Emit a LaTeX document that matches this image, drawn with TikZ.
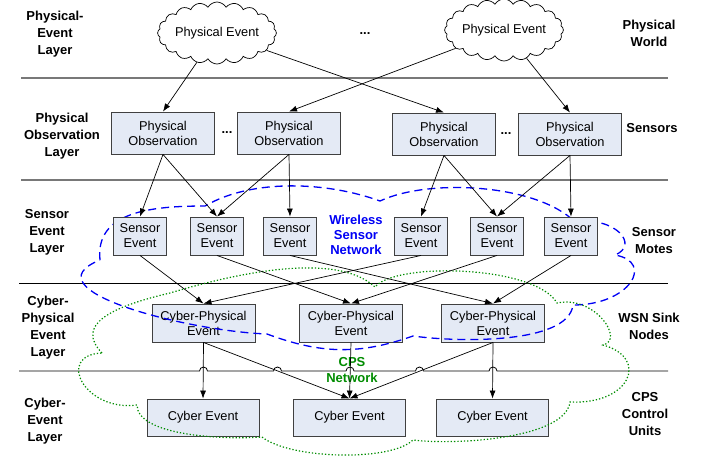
\documentclass[tikz,border=0pt]{standalone}
\usepackage{fontspec}
\setmainfont{Liberation Sans}
\usepackage{xcolor}
\usepackage{tikz}
\usetikzlibrary{shapes.symbols,arrows.meta,positioning}
\definecolor{boxfill}{RGB}{228,234,245}
\definecolor{boxline}{RGB}{64,64,64}
\definecolor{sepgray}{RGB}{120,120,120}
\definecolor{wsnblue}{RGB}{0,0,245}
\definecolor{cpsgreen}{RGB}{0,140,0}
\newcommand{\boxfont}{\fontsize{12.8}{15}\selectfont}
\newcommand{\layerfont}{\fontsize{13}{17}\selectfont\bfseries}

\begin{document}
\begin{tikzpicture}[x=1pt,y=1pt,
    evbox/.style={draw=boxline,fill=boxfill,line width=0.9pt,inner sep=0pt,align=center,font=\boxfont},
    obsbox/.style={evbox,minimum width=103pt,minimum height=42pt},
    sensbox/.style={evbox,minimum width=53pt,minimum height=38pt},
    cpbox/.style={evbox,minimum width=103pt,minimum height=38pt},
    cybbox/.style={evbox,minimum width=112pt,minimum height=37pt},
    pecloud/.style={cloud,cloud puffs=20,cloud puff arc=120,cloud ignores aspect,draw,fill=white,
        line width=0.7pt,minimum width=112pt,minimum height=62pt,inner sep=0pt,font=\boxfont},
    layer/.style={align=center,font=\layerfont},
    conn/.style={->,line width=0.7pt},
    >={Latex[length=8pt,width=6pt]}]
                \useasboundingbox (0,0) rectangle (704,-456);
                % layer separators
                \draw[sepgray,line width=1.4pt] (21,-78) -- (668,-78);
                \draw[sepgray,line width=1.4pt] (21,-180) -- (668,-180);
                \draw[line width=0.8pt] (19,-283) -- (668,-283);
                \draw[line width=0.8pt] (19,-371)
                    foreach \h in {203.5,277.5,350,419.5,493} { -- (\h-4,-371) arc[start angle=180,end angle=0,radius=4] }
                    -- (668,-371);
                % cyber layers
                \node[cpbox] (cp1) at (203.5,-323) {Cyber-Physical\\Event};
                \node[cpbox] (cp2) at (351,-323) {Cyber-Physical\\Event};
                \node[cpbox] (cp3) at (493,-323) {Cyber-Physical\\Event};
                \node[cybbox] (ce1) at (203,-417.5) {Cyber Event};
                \node[cybbox] (ce2) at (349.5,-417.5) {Cyber Event};
                \node[cybbox] (ce3) at (492.5,-417.5) {Cyber Event};
                % wireless sensor network
                \draw[wsnblue,line width=1.3pt,dash pattern=on 8pt off 5pt]
                    (100,-260) .. controls (95,-212) and (150,-206) .. (205,-206)
                    .. controls (253,-178) and (328,-182) .. (380,-201)
                    .. controls (429,-178) and (537,-184) .. (575,-222)
                    .. controls (615,-216) and (640,-245) .. (615,-255)
                    .. controls (655,-262) and (630,-305) .. (573,-305)
                    .. controls (568,-345) and (455,-342) .. (413,-336)
                    .. controls (359,-355) and (321,-354) .. (267,-334)
                    .. controls (187,-331) and (26,-290) .. (100,-260);
                % CPS network
                \draw[cpsgreen,line width=1.2pt,dash pattern=on 1.3pt off 2pt]
                    (102,-353) .. controls (75,-325) and (110,-307) .. (170,-293)
                    .. controls (230,-275) and (335,-250) .. (375,-287)
                    .. controls (395,-262) and (535,-265) .. (557,-303)
                    .. controls (595,-295) and (625,-340) .. (603,-345)
                    .. controls (650,-358) and (630,-405) .. (570,-402)
                    .. controls (565,-440) and (450,-445) .. (413,-440)
                    .. controls (390,-462) and (290,-459) .. (262,-437)
                    .. controls (220,-440) and (137,-435) .. (137,-405)
                    .. controls (85,-412) and (55,-355) .. (102,-353);
                % sensor events
                \node[sensbox] (se1) at (140,-236) {Sensor\\Event};
                \node[sensbox] (se2) at (217,-236) {Sensor\\Event};
                \node[sensbox] (se3) at (290,-236) {Sensor\\Event};
                \node[sensbox] (se4) at (421,-236) {Sensor\\Event};
                \node[sensbox] (se5) at (497,-236) {Sensor\\Event};
                \node[sensbox] (se6) at (571,-236) {Sensor\\Event};
                % physical observations
                \node[obsbox] (po1) at (163,-133) {Physical\\Observation};
                \node[obsbox] (po2) at (289,-133) {Physical\\Observation};
                \node[obsbox] (po3) at (444,-134) {Physical\\Observation};
                \node[obsbox] (po4) at (570,-134) {Physical\\Observation};
                \node[font=\layerfont,anchor=base] (dots1) at (227,-133.5) {...};
                \node[font=\layerfont,anchor=base] (dots2) at (506,-134) {...};
                % physical events
                \node[pecloud] (pe1) at (217,-33) {Physical Event};
                \node[pecloud] (pe2) at (504,-30) {Physical Event};
                \node[font=\layerfont,anchor=base] (dots0) at (365,-34) {...};
                % layer names
                \node[layer] (lpe) at (55,-34) {Physical-\\Event\\Layer};
                \node[layer] (lpo) at (62,-136) {Physical\\Observation\\Layer};
                \node[layer] (lse) at (47,-232) {Sensor\\Event\\Layer};
                \node[layer] (lcp) at (48,-328) {Cyber-\\Physical\\Event\\Layer};
                \node[layer] (lce) at (45,-421) {Cyber-\\Event\\Layer};
                \node[layer] (rpw) at (649,-33) {Physical\\World};
                \node[layer] (rsn) at (652,-128) {Sensors};
                \node[layer] (rsm) at (654,-241) {Sensor\\Motes};
                \node[layer] (rws) at (649,-326) {WSN Sink\\Nodes};
                \node[layer] (rcu) at (645,-414) {CPS\\Control\\Units};
                \node[layer,wsnblue,font=\fontsize{13}{15}\selectfont\bfseries] (wsn) at (356,-235) {Wireless\\Sensor\\Network};
                \node[layer,cpsgreen,font=\fontsize{13}{16}\selectfont\bfseries] (cps) at (352,-370) {CPS\\Network};
                % connectors
                \foreach \a/\b in {pe1/po1,pe1/po3,pe2/po2,pe2/po4}
                    \draw[conn] (\a) -- (\b.north);
                \foreach \a/\b in {po1/se1,po1/se2,po2/se2,po2/se3,po3/se4,po3/se5,po4/se5,po4/se6}
                    \draw[conn] (\a.south) -- (\b.north);
                \foreach \a/\b in {se1/cp1,se2/cp2,se3/cp3,se4/cp1,se5/cp2,se6/cp3}
                    \draw[conn] (\a.south) -- (\b.north);
                \foreach \a/\b in {cp1/ce1,cp1/ce2,cp2/ce2,cp3/ce2,cp3/ce3}
                    \draw[conn] (\a.south) -- (\b.north);
            \end{tikzpicture}
\end{document}
